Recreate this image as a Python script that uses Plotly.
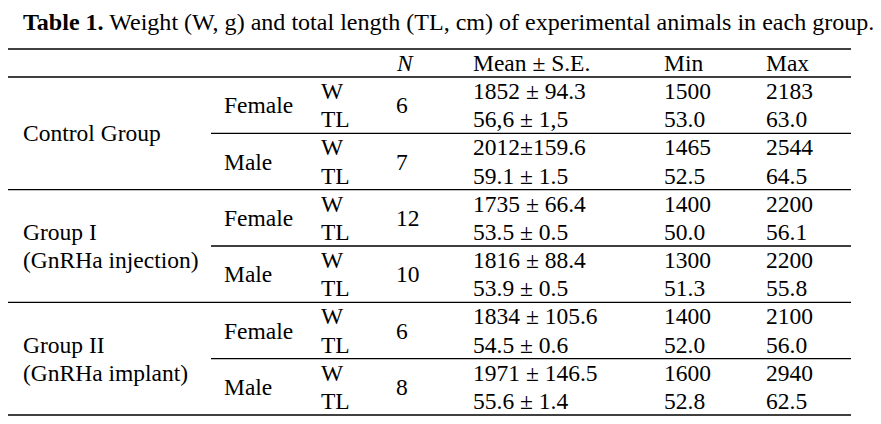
import plotly.graph_objects as go

# ---- data ----
title_bold = "Table 1."
title_rest = " Weight (W, g) and total length (TL, cm) of experimental animals in each group."
headers = ["<i>N</i>", "Mean ± S.E.", "Min", "Max"]
groups = [["Control Group"], ["Group I", "(GnRHa injection)"], ["Group II", "(GnRHa implant)"]]
sexes = ["Female", "Male"]
measures = ["W", "TL"]
n_values = [6, 7, 12, 10, 6, 8]
mean_se = ["1852 ± 94.3", "56,6 ± 1,5",
           "2012±159.6", "59.1 ± 1.5",
           "1735 ± 66.4", "53.5 ± 0.5",
           "1816 ± 88.4", "53.9 ± 0.5",
           "1834 ± 105.6", "54.5 ± 0.6",
           "1971 ± 146.5", "55.6 ± 1.4"]
min_values = ["1500", "53.0", "1465", "52.5", "1400", "50.0",
              "1300", "51.3", "1400", "52.0", "1600", "52.8"]
max_values = ["2183", "63.0", "2544", "64.5", "2200", "56.1",
              "2200", "55.8", "2100", "56.0", "2940", "62.5"]

# ---- layout geometry ----
W, H = 881, 424
OFF = 8  # default page body margin
FONT = "Liberation Serif, Times New Roman, serif"
FS = 23.5
x_left, x_right = 8, 851
y_top, y_head = 49, 77
row_h = (415 - 77) / 12
col_group, col_sex, col_meas, col_n, col_mean, col_min, col_max = 21, 222, 319, 394, 471, 662, 764
x_sub = 211

def row_y(i):
    return y_head + row_h * (i + 0.5)

ann = []
def txt(x, y, s, size=FS, anchor="left"):
    ann.append(dict(x=x, y=y, xref="x", yref="y", text=s, showarrow=False,
                    xanchor=anchor, yanchor="middle",
                    font=dict(family=FONT, size=size, color="black")))

txt(col_group, 22, "<b>" + title_bold + "</b>" + title_rest, size=24.05)

header_y = (y_top + y_head) / 2
for x, h in zip([col_n, col_mean, col_min, col_max], headers):
    txt(x, header_y, h)

shapes = []
def hline(y, x0=x_left):
    shapes.append(dict(type="line", xref="x", yref="y", x0=x0, x1=x_right, y0=y, y1=y,
                       line=dict(color="black", width=1.3)))

hline(y_top)
hline(y_head)

for g, glabel in enumerate(groups):
    g_top = y_head + row_h * 4 * g
    g_center = g_top + row_h * 2
    nlines = len(glabel)
    for k, line in enumerate(glabel):
        txt(col_group, g_center + (k - (nlines - 1) / 2) * row_h, line)
    for s, sex in enumerate(sexes):
        idx = g * 2 + s
        s_top = g_top + row_h * 2 * s
        txt(col_sex, s_top + row_h, sex)
        txt(col_n, s_top + row_h, str(n_values[idx]))
        for m, meas in enumerate(measures):
            r = idx * 2 + m
            y = row_y(r)
            txt(col_meas, y, meas)
            txt(col_mean, y, mean_se[r])
            txt(col_min, y, min_values[r])
            txt(col_max, y, max_values[r])
        if s == 0:
            hline(s_top + row_h * 2, x_sub)
    hline(g_top + row_h * 4)

fig = go.Figure()
fig.update_layout(width=W, height=H, margin=dict(l=0, r=0, t=0, b=0),
                  paper_bgcolor="white", plot_bgcolor="white",
                  xaxis=dict(range=[OFF, W + OFF], visible=False, fixedrange=True),
                  yaxis=dict(range=[H + OFF, OFF], visible=False, fixedrange=True),
                  annotations=ann, shapes=shapes, showlegend=False)
fig.write_html("out.html")
